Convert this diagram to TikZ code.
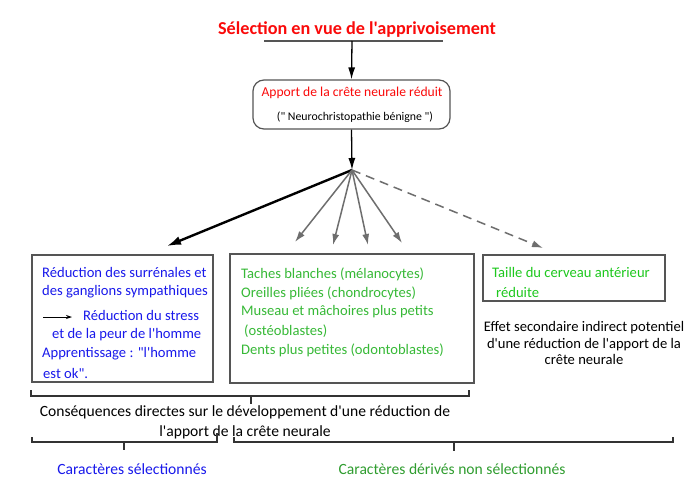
\documentclass[tikz,border=0pt]{standalone}
\usepackage{fontspec}
\setmainfont{Carlito}[Ligatures=TeXOff]
\usetikzlibrary{arrows.meta}
\definecolor{tred}{RGB}{250,10,10}
\definecolor{tblue}{RGB}{25,25,235}
\definecolor{tgreen}{RGB}{55,185,55}
\definecolor{tgreenb}{RGB}{30,200,30}
\definecolor{fangray}{RGB}{110,110,110}
\definecolor{boxgray}{RGB}{85,85,85}
\begin{document}
\begin{tikzpicture}[x=1pt,y=-1pt,
  txt/.style={inner sep=0pt, anchor=west, font=\fontsize{14.6}{16}\selectfont},
  ctxt/.style={inner sep=0pt, font=\fontsize{14.6}{16}\selectfont},
  boxr/.style={draw=boxgray, line width=1.2pt, inner sep=0pt},
  brace/.style={draw=black!80, line width=1.4pt},
  fanarrow/.style={draw=fangray, line width=1.5pt, -{Latex[length=11pt,width=7pt]}},
  mainarrow/.style={draw=black, line width=1.3pt, -{Latex[length=12pt,width=7pt]}}
]
\useasboundingbox (0,0) rectangle (700,498);
\fill[white] (0,0) rectangle (700,498);

% title
\node[inner sep=0pt, text=tred, font=\bfseries\fontsize{18.2}{20}\selectfont] (title) at (357,30) {Sélection en vue de l'apprivoisement};
\coordinate (ulL) at (264,41);
\coordinate (ulR) at (443,41);
\coordinate (ulM) at (352,41);
\draw[boxgray, line width=1.2pt] (ulL) -- (ulR);

% rounded box
\node[boxr, rounded corners=11pt, minimum width=197pt, minimum height=49pt] (rbox) at (351.5,104.5) {};
\node[ctxt, text=tred, font=\fontsize{13.6}{15}\selectfont] (rb1) at (352,93) {Apport de la crête neurale réduit};
\node[ctxt, font=\fontsize{11.8}{13}\selectfont] (rb2) at (355,117) {(" Neurochristopathie bénigne ")};

\draw[mainarrow] (ulM) -- (rbox.north);
\coordinate (fan) at (352,170);
\draw[mainarrow] (rbox.south) -- (fan);

% fan targets
\coordinate (tA) at (167,246);
\coordinate (tB) at (295,242);
\coordinate (tC) at (333,245);
\coordinate (tD) at (368,245);
\coordinate (tE) at (402,243);
\coordinate (tF) at (543,248);
\draw[draw=black, line width=2.4pt, -{Latex[length=14pt,width=9pt]}] (fan) -- (tA);
\draw[fanarrow] (fan) -- (tB);
\draw[fanarrow] (fan) -- (tC);
\draw[fanarrow] (fan) -- (tD);
\draw[fanarrow] (fan) -- (tE);
\draw[fanarrow, dash pattern=on 9pt off 6pt] (fan) -- (tF);

% boxes
\node[boxr, minimum width=181pt, minimum height=127pt] (lbox) at (122.5,318.5) {};
\node[boxr, minimum width=244pt, minimum height=129pt] (mbox) at (352,318.5) {};
\node[boxr, minimum width=182pt, minimum height=46pt] (rbx) at (574,278) {};

% left box text
\node[txt, text=tblue] (l1) at (42,272) {Réduction des surrénales et};
\node[txt, text=tblue] (l2) at (42,292) {des ganglions sympathiques};
\coordinate (la1) at (43,317);
\coordinate (la2) at (72,317);
\draw[black, line width=0.8pt, -{Stealth[length=6pt,width=4pt]}] (la1) -- (la2);
\node[txt, text=tblue] (l3) at (83,315) {Réduction du stress};
\node[txt, text=tblue] (l4) at (52,335) {et de la peur de l'homme};
\node[txt, text=tblue] (l5) at (42,354) {Apprentissage : "l'homme};
\node[txt, text=tblue] (l6) at (43,373) {est ok".};

% middle box text
\node[txt, text=tgreen] (m1) at (241,274) {Taches blanches (mélanocytes)};
\node[txt, text=tgreen] (m2) at (241,293) {Oreilles pliées (chondrocytes)};
\node[txt, text=tgreen] (m3) at (241,312) {Museau et mâchoires plus petits};
\node[txt, text=tgreen] (m4) at (244,331) {(ostéoblastes)};
\node[txt, text=tgreen] (m5) at (241,350) {Dents plus petites (odontoblastes)};

% right box text
\node[txt, text=tgreenb] (r1) at (492,272) {Taille du cerveau antérieur};
\node[txt, text=tgreenb] (r2) at (496,292) {réduite};
\node[ctxt, align=center, font=\fontsize{14.6}{16.5}\selectfont] (eff) at (584,343) {Effet secondaire indirect potentiel\\d'une réduction de l'apport de la\\crête neurale};

% braces
\draw[brace] (31,390) -- (31,396) -- (469,396) -- (469,390);
\draw[brace] (251,396) -- (251,404);
\node[ctxt, align=center, font=\fontsize{15.6}{20}\selectfont] (cons) at (245,422) {Conséquences directes sur le développement d'une réduction de\\l'apport de la crête neurale};
\draw[brace] (32,437) -- (32,442) -- (217,442) -- (217,433);
\draw[brace] (124,442) -- (124,450);
\draw[brace] (234,437) -- (234,442) -- (673,442) -- (673,437);
\draw[brace] (454,442) -- (454,451);
\node[ctxt, text=tblue, font=\fontsize{15.6}{18}\selectfont] (sel) at (132,469) {Caractères sélectionnés};
\node[ctxt, text=tgreen!85!black, font=\fontsize{15.6}{18}\selectfont] (nsel) at (452,469) {Caractères dérivés non sélectionnés};
\end{tikzpicture}
\end{document}
